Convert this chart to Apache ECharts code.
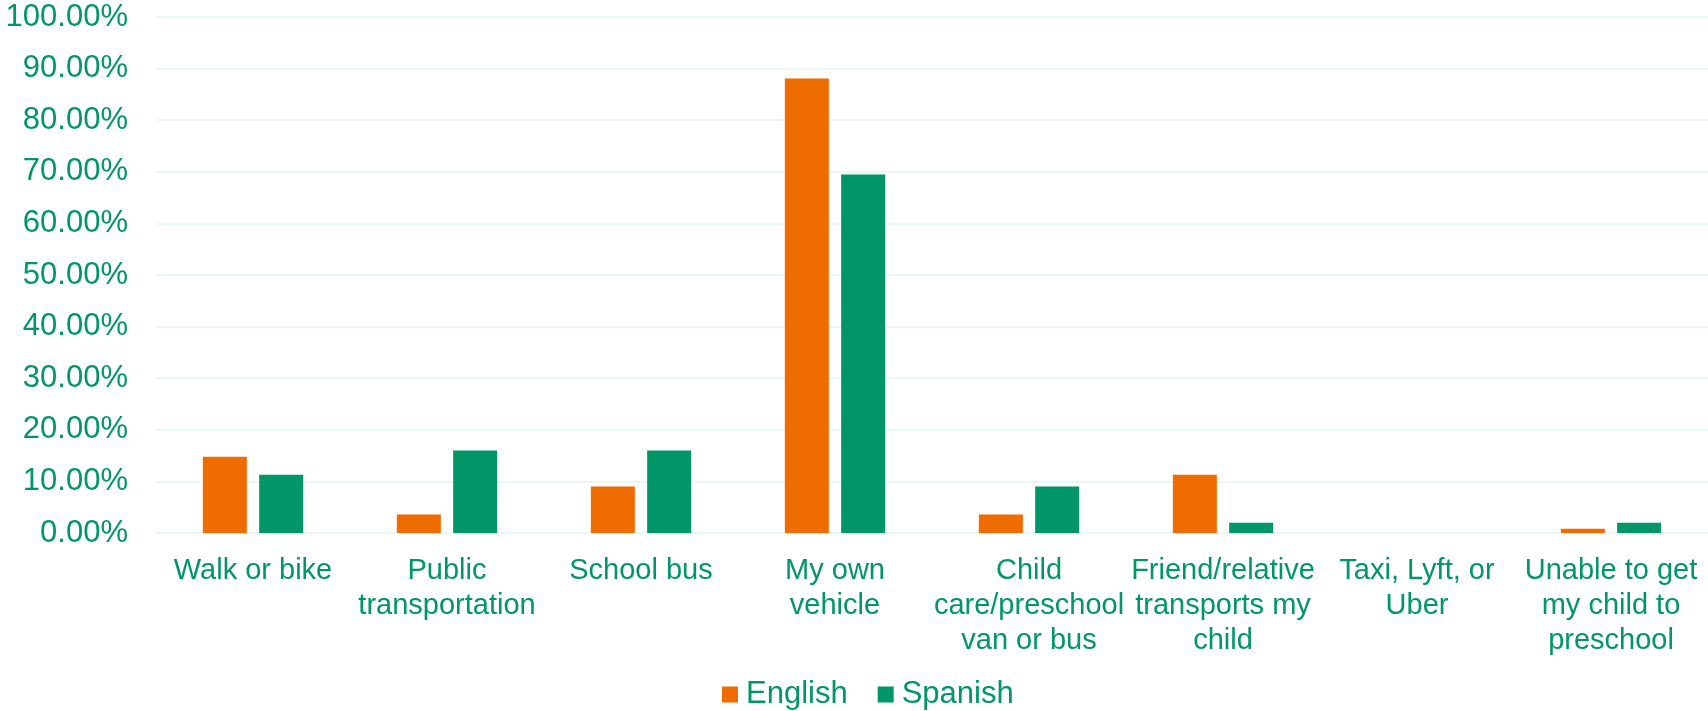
<!DOCTYPE html>
<html>
<head>
<meta charset="utf-8">
<script src="https://cdn.jsdelivr.net/npm/echarts@6/dist/echarts.min.js"></script>
<style>
html,body{margin:0;padding:0;background:#fff;}
#chart{width:1708px;height:711px;}
</style>
</head>
<body>
<div id="chart"></div>
<script>
const categories = [
  "Walk or bike",
  "Public\ntransportation",
  "School bus",
  "My own\nvehicle",
  "Child\ncare/preschool\nvan or bus",
  "Friend/relative\ntransports my\nchild",
  "Taxi, Lyft, or\nUber",
  "Unable to get\nmy child to\npreschool"
];
const seriesNames = ["English", "Spanish"];
const englishValues = [14.8, 3.6, 9.0, 88.1, 3.6, 11.3, 0, 0.8];
const spanishValues = [11.3, 16.0, 16.0, 69.5, 9.0, 2.0, 0, 2.0];
const yTicks = { min: 0, max: 100, interval: 10 };

const textColor = "#009668";
const gridColor = "#EAF7F2";
const font = "'Liberation Sans', Arial, sans-serif";

const chart = echarts.init(document.getElementById('chart'));
chart.setOption({
  animation: false,
  backgroundColor: '#ffffff',
  textStyle: { fontFamily: font },
  legend: {
    data: seriesNames,
    bottom: -4,
    left: 717,
    itemWidth: 16,
    itemHeight: 16,
    itemGap: 30,
    icon: 'rect',
    textStyle: { color: textColor, fontSize: 31, fontFamily: font, padding: [0, 0, 0, 3] }
  },
  grid: { left: 156, right: 0, top: 17, bottom: 178, containLabel: false },
  xAxis: {
    type: 'category',
    data: categories,
    axisLine: { lineStyle: { color: gridColor, width: 2 } },
    axisTick: { show: false },
    axisLabel: {
      color: textColor,
      fontSize: 29,
      lineHeight: 35,
      margin: 20,
      interval: 0,
      fontFamily: font
    }
  },
  yAxis: {
    type: 'value',
    min: yTicks.min,
    max: yTicks.max,
    interval: yTicks.interval,
    axisLine: { show: false },
    axisTick: { show: false },
    splitLine: { lineStyle: { color: gridColor, width: 2 } },
    axisLabel: {
      color: textColor,
      fontSize: 31,
      margin: 28,
      fontFamily: font,
      formatter: v => v.toFixed(2) + '%'
    }
  },
  series: [
    {
      name: seriesNames[0],
      type: 'bar',
      data: englishValues,
      barWidth: 44,
      barGap: '28%',
      itemStyle: { color: '#EE6C00' }
    },
    {
      name: seriesNames[1],
      type: 'bar',
      data: spanishValues,
      barWidth: 44,
      barGap: '28%',
      itemStyle: { color: '#009668' }
    }
  ]
});
</script>
</body>
</html>
